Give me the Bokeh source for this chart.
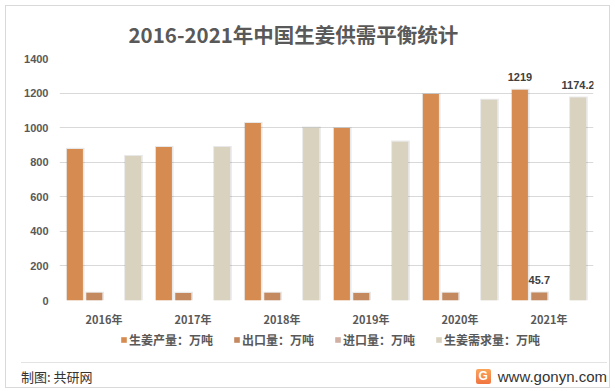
from bokeh.plotting import figure
from bokeh.models import (ColumnDataSource, FactorRange, Range1d, FixedTicker,
                          Legend, LegendItem, Title, Div)
from bokeh.layouts import column
from bokeh.transform import dodge
from bokeh.core.properties import value
from bokeh.embed import file_html
from bokeh.resources import INLINE

# ---------------- data ----------------
years = ["2016年", "2017年", "2018年", "2019年", "2020年", "2021年"]
production = [877, 888, 1027, 998, 1195, 1219]      # 生姜产量：万吨
exports = [45, 44, 45, 44, 45, 45.7]                # 出口量：万吨
imports = [0.1, 0.1, 0.1, 0.1, 0.1, 0.1]            # 进口量：万吨
demand = [836, 888, 1000, 919, 1161, 1174.2]        # 生姜需求量：万吨
series_names = ["生姜产量：万吨", "出口量：万吨", "进口量：万吨", "生姜需求量：万吨"]
y_ticks = [0, 200, 400, 600, 800, 1000, 1200, 1400]
title_text = "2016-2021年中国生姜供需平衡统计"
source_text = "制图: 共研网"
site_text = "www.gonyn.com"

# ---------------- styles ----------------
colors = ["#D68B50", "#C4895F", "#D2AFA3", "#D9D2BF"]
offsets = [-0.327, -0.109, 0.109, 0.327]
bar_w = 0.18
GRAY = "#595959"
CJK = "Noto Sans CJK SC"
W = 603
H_MAIN, H_LEG, H_FOOT = 323, 24, 34
H_TOT = H_MAIN + H_LEG + H_FOOT

src = ColumnDataSource(dict(
    year=years, production=production, exports=exports, imports=imports, demand=demand,
    production_s=[v + 6 for v in production],
    exports_s=[v + 6 for v in exports],
    demand_s=[v + 6 for v in demand],
))

# ---------------- main chart ----------------
p = figure(x_range=FactorRange(*years), y_range=Range1d(0, 1400),
           width=W, height=H_MAIN, output_backend="svg", toolbar_location=None,
           min_border_left=53, min_border_right=16, min_border_top=52,
           min_border_bottom=28)
p.title = None
p.add_layout(Title(text=title_text, align="left", offset=69, standoff=20,
                   text_font=CJK, text_font_size="20.5px", text_font_style="bold",
                   text_color=GRAY), "above")
p.outline_line_color = None
p.background_fill_color = "white"
p.border_fill_color = "white"

# soft shadows
for col, off in zip(["production_s", "exports_s", "demand_s"], [offsets[0], offsets[1], offsets[3]]):
    p.vbar(x=dodge("year", off + 0.004, range=p.x_range), top=col, width=bar_w + 0.03,
           source=src, fill_color="black", fill_alpha=0.09, line_color=None)

for col, off, c in zip(["production", "exports", "imports", "demand"], offsets, colors):
    p.vbar(x=dodge("year", off, range=p.x_range), top=col, width=bar_w,
           source=src, fill_color=c, line_color=None)

# data labels for 2021
for arr, off in [(production, offsets[0]), (exports, offsets[1]), (demand, offsets[3])]:
    lsrc = ColumnDataSource(dict(year=[years[-1]], v=[arr[-1]], t=[f"{arr[-1]:g}"]))
    p.text(x=dodge("year", off, range=p.x_range), y="v", text="t", source=lsrc,
           text_align="center", text_baseline="middle", y_offset=-13,
           text_font=value("Liberation Sans"), text_font_size="11px",
           text_font_style="bold", text_color="#404040")

# axes & grid
p.ygrid.grid_line_color = "#D9D9D9"
p.ygrid.grid_line_width = 1
p.xgrid.grid_line_color = None
p.yaxis.ticker = FixedTicker(ticks=y_ticks)
p.yaxis.axis_line_color = None
p.yaxis.major_tick_line_color = None
p.yaxis.minor_tick_line_color = None
p.yaxis.major_tick_out = 0
p.yaxis.major_tick_in = 0
p.yaxis.major_label_standoff = 11
p.yaxis.major_label_text_font = "Liberation Sans"
p.yaxis.major_label_text_font_size = "11px"
p.yaxis.major_label_text_font_style = "bold"
p.yaxis.major_label_text_color = GRAY

p.xaxis.axis_line_color = None
p.xaxis.major_tick_line_color = None
p.xaxis.major_tick_out = 0
p.xaxis.major_tick_in = 0
p.xaxis.major_label_standoff = 10
p.xaxis.major_label_text_font = CJK
p.xaxis.major_label_text_font_size = "11px"
p.xaxis.major_label_text_font_style = "bold"
p.xaxis.major_label_text_color = GRAY

# ---------------- legend strip ----------------
pl = figure(width=W, height=H_LEG, output_backend="svg", toolbar_location=None,
            x_range=Range1d(0, 1), y_range=Range1d(0, 1),
            x_axis_type=None, y_axis_type=None,
            min_border_left=0, min_border_right=0, min_border_top=0, min_border_bottom=0)
pl.outline_line_color = None
pl.grid.visible = False
pl.background_fill_color = "white"
pl.border_fill_color = "white"
# legend proxies (zero-height bars outside the visible range)
leg_renderers = [pl.vbar(x=[-5], top=[0], width=0.1, fill_color=c, line_color=None) for c in colors]
legend = Legend(items=[LegendItem(label=n, renderers=[r]) for n, r in zip(series_names, leg_renderers)],
                orientation="horizontal", location=(61, 5),
                glyph_width=7, glyph_height=7, label_standoff=2, spacing=20,
                padding=0, margin=0, label_height=14,
                label_text_font=CJK, label_text_font_size="12px",
                label_text_font_style="bold", label_text_color=GRAY,
                border_line_color=None, background_fill_alpha=0)
pl.add_layout(legend, "center")

# ---------------- footer ----------------
footer_html = (
    '<div style="width:586px;margin:4px 0 0 10px;border-top:1px solid #E3E3E3;height:29px;'
    'display:flex;justify-content:space-between;align-items:center;">'
    f'<span style="font-family:\'Noto Sans CJK SC\';font-size:13px;color:#333333;">{source_text}</span>'
    '<span style="display:flex;align-items:center;">'
    '<span style="display:inline-block;width:15px;height:15px;border-radius:2px;'
    'background:linear-gradient(#F9A65A,#F27440);color:white;font-family:\'Liberation Sans\';'
    'font-weight:bold;font-size:12px;line-height:15px;text-align:center;">G</span>'
    f'<span style="font-family:\'Liberation Sans\';font-size:15px;color:#333333;margin-left:7px;">{site_text}</span>'
    '</span></div>'
)
footer = Div(text=footer_html, width=W, height=H_FOOT)

layout = column(p, pl, footer, spacing=0, width=W, height=H_TOT,
                styles={"outline": "1px solid #D9D9D9", "outline-offset": "0px",
                        "width": f"{W}px", "height": f"{H_TOT}px",
                        "max-width": f"{W}px", "overflow": "hidden",
                        "margin-left": "6px", "margin-top": "6px", "background": "white"})

open("out.html", "w").write(file_html(layout, INLINE))
